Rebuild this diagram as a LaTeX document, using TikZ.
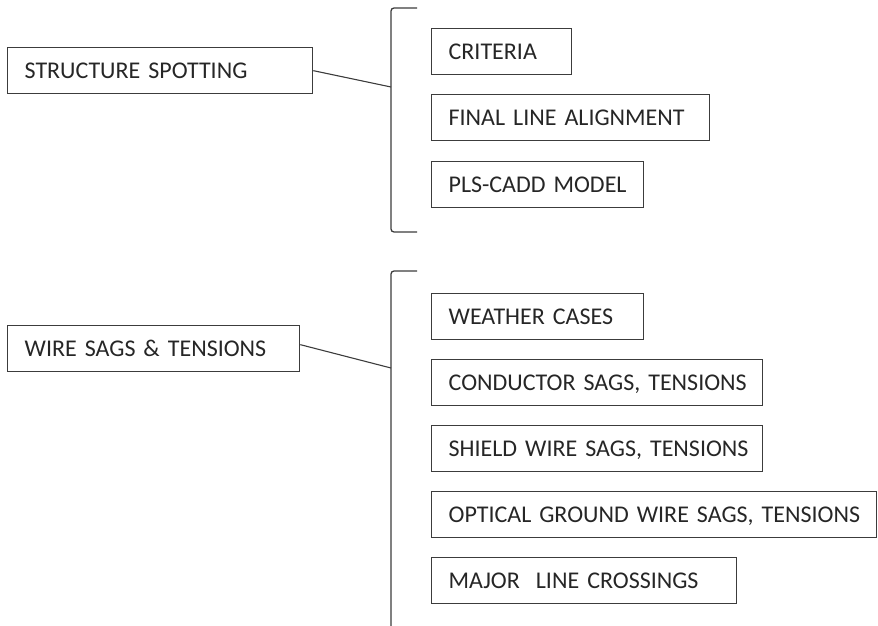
\documentclass[tikz,border=0pt]{standalone}
\usepackage{fontspec}
\setmainfont{Carlito}
\definecolor{ink}{HTML}{262626}
\definecolor{rule}{HTML}{3C3C3C}
\tikzset{
  itembox/.style={draw=rule, line width=1.3pt, anchor=north west,
    inner xsep=17pt, inner ysep=0pt, minimum height=46pt,
    text height=15.5pt, text depth=0pt, align=left, text=ink,
    font=\fontsize{24}{28}\selectfont},
  brace/.style={draw=rule, line width=1.3pt, rounded corners=3pt},
  link/.style={draw=rule, line width=1.1pt}
}
\begin{document}
\begin{tikzpicture}[x=1pt, y=-1pt]
\useasboundingbox (0,0) rectangle (878,626);

% upper group: structure spotting
\node[itembox, text width=271pt] (ss) at (7,47) {\mbox{STRUCTURE SPOTTING}};
\coordinate (b1t) at (417,8);
\coordinate (b1b) at (417,232);
\coordinate (b1m) at (391,87);
\draw[brace] (b1t) -- (391,8) -- (391,232) -- (b1b);
\draw[link] (ss.east) -- (b1m);

\node[itembox, text width=106pt] (crit)  at (431,28)  {\mbox{CRITERIA}};
\node[itembox, text width=244pt] (final) at (431,94)  {\mbox{FINAL LINE ALIGNMENT}};
\node[itembox, text width=178pt] (pls)   at (431,161) {\mbox{PLS-CADD MODEL}};

% lower group: wire sags and tensions
\node[itembox, text width=258pt] (ws) at (7,325) {\mbox{WIRE SAGS \& TENSIONS}};
\coordinate (b2t) at (417,271);
\coordinate (b2b) at (391,626);
\coordinate (b2m) at (391,368);
\draw[brace] (b2t) -- (391,271) -- (b2b);
\draw[link] ([yshift=4pt]ws.east) -- (b2m);

\node[itembox, text width=178pt] (weather) at (431,293) {\mbox{WEATHER CASES}};
\node[itembox, text width=297pt] (cond)    at (431,359) {\mbox{CONDUCTOR SAGS, TENSIONS}};
\node[itembox, text width=297pt] (shield)  at (431,425) {\mbox{SHIELD WIRE SAGS, TENSIONS}};
\node[itembox, text width=411pt] (opgw)    at (431,491) {\mbox{OPTICAL GROUND WIRE SAGS, TENSIONS}};
\node[itembox, text width=271pt] (major)   at (431,557) {\mbox{MAJOR\ \ LINE CROSSINGS}};
\end{tikzpicture}
\end{document}
